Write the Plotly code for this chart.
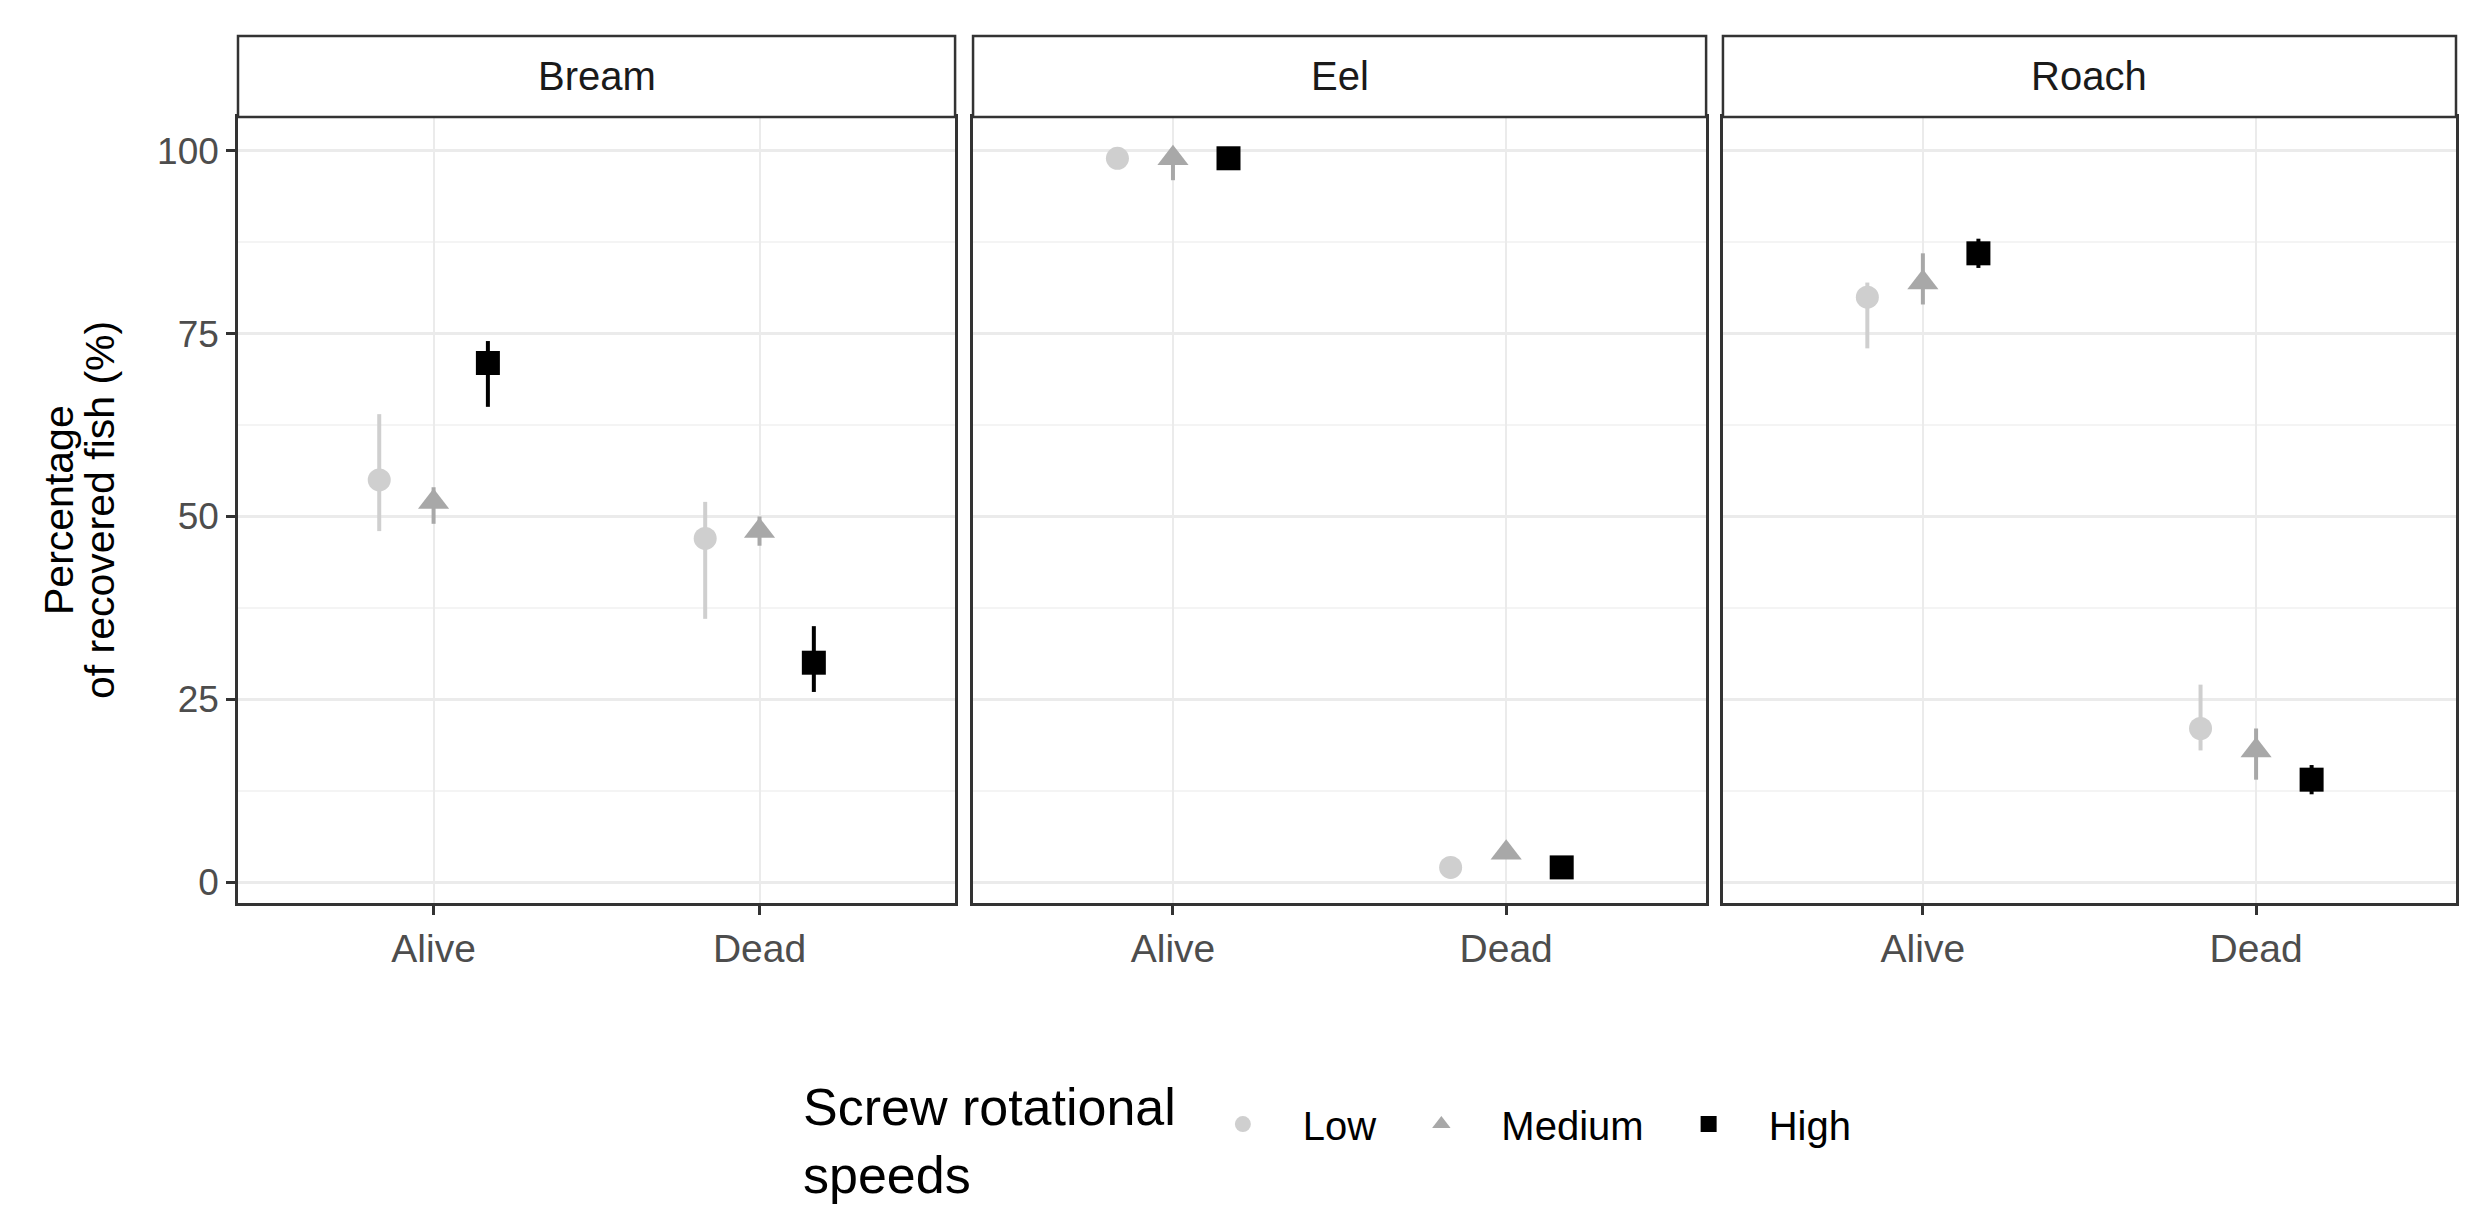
import plotly.graph_objects as go
from plotly.subplots import make_subplots

# facets, categories and groups
species = ["Bream", "Eel", "Roach"]
status = ["Alive", "Dead"]
speeds = ["Low", "Medium", "High"]

# mean percentage of recovered fish, per speed -> per species -> [Alive, Dead]
mean_pct = {
    "Low":    {"Bream": [55, 47], "Eel": [99, 2], "Roach": [80, 21]},
    "Medium": {"Bream": [52, 48], "Eel": [99, 4], "Roach": [82, 18]},
    "High":   {"Bream": [71, 30], "Eel": [99, 2], "Roach": [86, 14]},
}
lower_pct = {
    "Low":    {"Bream": [48, 36], "Eel": [99, 2], "Roach": [73, 18]},
    "Medium": {"Bream": [49, 46], "Eel": [96, 4], "Roach": [79, 14]},
    "High":   {"Bream": [65, 26], "Eel": [99, 2], "Roach": [84, 12]},
}
upper_pct = {
    "Low":    {"Bream": [64, 52], "Eel": [99, 2], "Roach": [82, 27]},
    "Medium": {"Bream": [54, 50], "Eel": [100, 5], "Roach": [86, 21]},
    "High":   {"Bream": [74, 35], "Eel": [99, 2], "Roach": [88, 16]},
}

colors = {"Low": "#CFCFCF", "Medium": "#A8A8A8", "High": "#000000"}
symbols = {"Low": "circle", "Medium": "triangle-up", "High": "square"}
sizes = {"Low": 23, "Medium": 27, "High": 24}

FONT = "Arial, Liberation Sans, sans-serif"
dodge_width = 0.5

fig = make_subplots(rows=1, cols=3, shared_yaxes=True, horizontal_spacing=0.008)

for col, sp in enumerate(species, start=1):
    for k, spd in enumerate(speeds):
        # position_dodge(width=0.5): offsets -1/6, 0, +1/6
        offset = (k - (len(speeds) - 1) / 2) * dodge_width / len(speeds)
        xs = [i + 1 + offset for i in range(len(status))]
        y = mean_pct[spd][sp]
        lo = lower_pct[spd][sp]
        hi = upper_pct[spd][sp]
        fig.add_trace(
            go.Scatter(
                x=xs, y=y,
                mode="markers",
                name=spd,
                legendgroup=spd,
                showlegend=(col == 1),
                marker=dict(color=colors[spd], symbol=symbols[spd], size=sizes[spd], line=dict(width=0)),
                error_y=dict(
                    type="data", symmetric=False,
                    array=[h - v for h, v in zip(hi, y)],
                    arrayminus=[v - l for v, l in zip(y, lo)],
                    width=0, thickness=4, color=colors[spd],
                ),
            ),
            row=1, col=col,
        )

# panel geometry (paper coords)
x_domains = [[0.0, 0.3233], [0.3314, 0.6619], [0.6695, 1.0]]
y_top = 0.9066

for col in range(1, 4):
    fig.update_xaxes(
        domain=x_domains[col - 1],
        range=[0.4, 2.6],
        tickvals=[1, 2], ticktext=status,
        showgrid=True, gridcolor="#EBEBEB", gridwidth=2,
        zeroline=False,
        showline=True, mirror=True, linecolor="#333333", linewidth=2.5,
        ticks="outside", ticklen=9, tickwidth=2.5, tickcolor="#333333",
        tickfont=dict(family=FONT, size=39, color="#4D4D4D"),
        row=1, col=col,
    )
    fig.update_yaxes(
        domain=[0, y_top],
        range=[-2.87, 104.65],
        tickvals=[0, 25, 50, 75, 100],
        showgrid=True, gridcolor="#EBEBEB", gridwidth=2.5,
        minor=dict(tickvals=[12.5, 37.5, 62.5, 87.5], showgrid=True, gridcolor="#F4F4F4", gridwidth=1.5),
        zeroline=False,
        showline=True, mirror=True, linecolor="#333333", linewidth=2.5,
        ticks="outside" if col == 1 else "", ticklen=9, tickwidth=2.5, tickcolor="#333333",
        showticklabels=(col == 1),
        tickfont=dict(family=FONT, size=37, color="#4D4D4D"),
        row=1, col=col,
    )

# y-axis title, two centred lines
y_title_lines = ["Percentage", "of recovered fish (%)"]
for xp, line in zip([-0.0807, -0.0622], y_title_lines):
    fig.add_annotation(x=xp, y=y_top / 2, xref="paper", yref="paper", text=line,
                       textangle=-90, showarrow=False, xanchor="center", yanchor="middle",
                       font=dict(family=FONT, size=41, color="#000000"))

# facet strips
for (x0, x1), sp in zip(x_domains, species):
    fig.add_shape(type="rect", xref="paper", yref="paper", x0=x0, x1=x1, y0=y_top, y1=1.0,
                  line=dict(color="#333333", width=2.5), fillcolor="#FFFFFF", layer="above")
    fig.add_annotation(x=(x0 + x1) / 2, y=(y_top + 1.0) / 2, xref="paper", yref="paper",
                       text=sp, showarrow=False, xanchor="center", yanchor="middle",
                       font=dict(family=FONT, size=40, color="#1A1A1A"))

# legend title drawn separately so the keys sit at its mid-height
fig.add_annotation(x=0.2538, y=-0.2747, xref="paper", yref="paper",
                   text="Screw rotational<br>speeds", showarrow=False, align="left",
                   xanchor="left", yanchor="middle",
                   font=dict(family=FONT, size=52, color="#000000"))

fig.update_layout(
    width=2472, height=1218,
    margin=dict(l=230, r=24, t=28, b=323),
    plot_bgcolor="#FFFFFF", paper_bgcolor="#FFFFFF",
    showlegend=True,
    legend=dict(
        orientation="h", x=0.426, xanchor="left", y=-0.255, yanchor="middle",
        font=dict(family=FONT, size=40, color="#000000"),
        itemwidth=110, tracegroupgap=0, valign="middle",
    ),
)

fig.write_html("out.html")
